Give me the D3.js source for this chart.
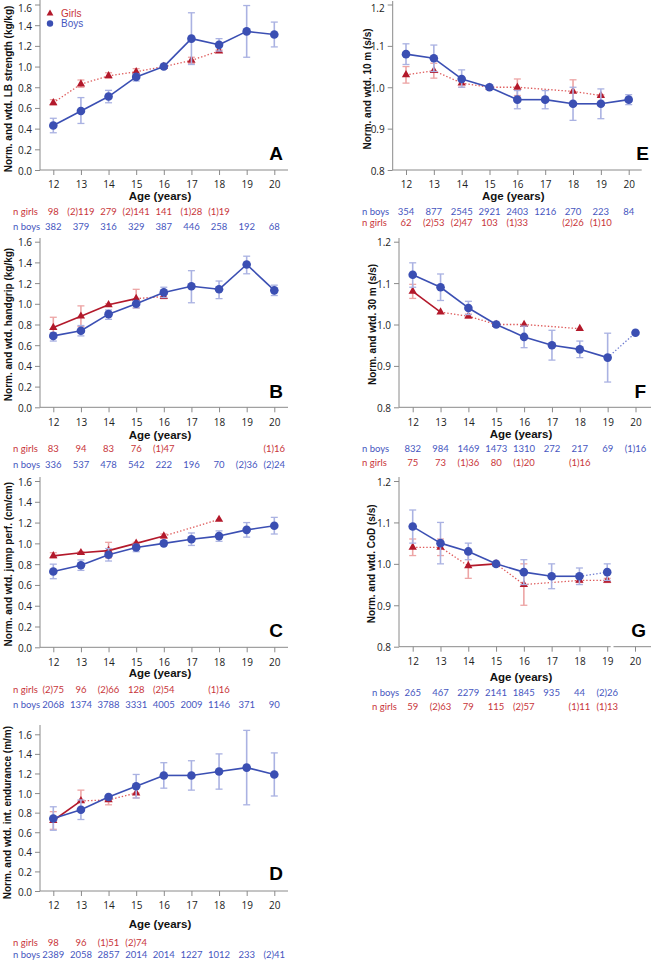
<!DOCTYPE html>
<html><head><meta charset="utf-8">
<script src="https://cdn.jsdelivr.net/npm/d3@7"></script>
<style>body{margin:0;background:#fff}svg{display:block}</style>
</head><body>
<svg id="c" width="651" height="960"></svg>
<script>
const ages = [12,13,14,15,16,17,18,19,20];
// A: LB strength
const aGirls   = [0.65,0.83,0.91,0.95,1.00,1.06,1.15,null,null];
const aGirlsLo = [0.63,0.80,0.89,0.92,1.00,1.03,1.14,null,null];
const aGirlsHi = [0.68,0.87,0.94,0.98,1.00,1.09,1.16,null,null];
const aGirlsSolid = [0,0,0,0,0,0,0,0];
const aBoys   = [0.43,0.57,0.71,0.90,1.00,1.27,1.21,1.34,1.31];
const aBoysLo = [0.36,0.45,0.65,0.86,1.00,1.02,1.15,1.09,1.19];
const aBoysHi = [0.50,0.70,0.77,0.93,1.00,1.52,1.27,1.59,1.43];
const aBoysSolid = [1,1,1,1,1,1,1,1];
const aNGirls = ["98","(2)119","279","(2)141","141","(1)28","(1)19","",""];
const aNBoys  = ["382","379","316","329","387","446","258","192","68"];
// B: handgrip
const bGirls   = [0.77,0.88,0.99,1.05,1.07,null,null,null,null];
const bGirlsLo = [0.68,0.78,0.98,0.96,1.05,null,null,null,null];
const bGirlsHi = [0.87,0.98,1.00,1.14,1.09,null,null,null,null];
const bGirlsSolid = [1,1,1,0,0,0,0,0];
const bBoys   = [0.69,0.74,0.90,1.00,1.11,1.17,1.14,1.38,1.13];
const bBoysLo = [0.64,0.69,0.85,0.96,1.06,1.01,1.05,1.29,1.08];
const bBoysHi = [0.72,0.79,0.94,1.03,1.16,1.32,1.22,1.46,1.18];
const bBoysSolid = [1,1,1,1,1,1,1,1];
const bNGirls = ["83","94","83","76","(1)47","","","","(1)16"];
const bNBoys  = ["336","537","478","542","222","196","70","(2)36","(2)24"];
// C: jump performance
const cGirls   = [0.88,0.91,0.93,1.00,1.07,null,1.23,null,null];
const cGirlsLo = [0.86,0.90,0.86,0.98,1.05,null,1.23,null,null];
const cGirlsHi = [0.91,0.92,1.01,1.01,1.09,null,1.23,null,null];
const cGirlsSolid = [1,1,1,1,0,0,0,0];
const cBoys   = [0.73,0.79,0.89,0.96,1.00,1.04,1.07,1.13,1.17];
const cBoysLo = [0.66,0.74,0.83,0.92,1.00,0.98,1.02,1.06,1.09];
const cBoysHi = [0.80,0.84,0.95,0.99,1.00,1.10,1.12,1.20,1.25];
const cBoysSolid = [1,1,1,1,1,1,1,1];
const cNGirls = ["(2)75","96","(2)66","128","(2)54","","(1)16","",""];
const cNBoys  = ["2068","1374","3788","3331","4005","2009","1146","371","90"];
// D: intermittent endurance
const dGirls   = [0.72,0.92,0.93,1.00,null,null,null,null,null];
const dGirlsLo = [0.63,0.92,0.88,0.95,null,null,null,null,null];
const dGirlsHi = [0.81,1.03,0.96,1.00,null,null,null,null,null];
const dGirlsSolid = [1,0,0,0,0,0,0,0];
const dBoys   = [0.74,0.83,0.96,1.07,1.18,1.18,1.22,1.26,1.19];
const dBoysLo = [0.62,0.73,0.95,0.95,1.05,1.03,1.04,0.88,0.97];
const dBoysHi = [0.86,0.93,0.97,1.19,1.31,1.33,1.40,1.64,1.41];
const dBoysSolid = [1,1,1,1,1,1,1,1];
const dNGirls = ["98","96","(1)51","(2)74","","","","",""];
const dNBoys  = ["2389","2058","2857","2014","2014","1227","1012","233","(2)41"];
// E: 10 m sprint
const eGirls   = [1.03,1.04,1.01,1.00,1.00,null,0.99,0.98,null];
const eGirlsLo = [1.01,1.022,1.00,1.00,0.98,null,0.962,0.978,null];
const eGirlsHi = [1.05,1.058,1.02,1.00,1.02,null,1.018,0.982,null];
const eGirlsSolid = [0,0,0,0,0,0,0,0];
const eBoys   = [1.08,1.07,1.02,1.00,0.97,0.97,0.96,0.96,0.97];
const eBoysLo = [1.055,1.038,1.00,1.00,0.948,0.948,0.92,0.924,0.958];
const eBoysHi = [1.105,1.102,1.042,1.00,0.992,0.992,1.00,0.996,0.982];
const eBoysSolid = [1,1,1,1,1,1,1,1];
const eNBoys  = ["354","877","2545","2921","2403","1216","270","223","84"];
const eNGirls = ["62","(2)53","(2)47","103","(1)33","","(2)26","(1)10",""];
// F: 30 m sprint
const fGirls   = [1.08,1.03,1.02,1.00,1.00,null,0.99,null,null];
const fGirlsLo = [1.063,1.03,1.015,1.00,1.00,null,0.99,null,null];
const fGirlsHi = [1.097,1.03,1.025,1.00,1.00,null,0.99,null,null];
const fGirlsSolid = [1,0,0,0,0,0,0,0];
const fBoys   = [1.12,1.09,1.04,1.00,0.97,0.95,0.94,0.92,0.98];
const fBoysLo = [1.09,1.058,1.024,1.00,0.944,0.914,0.92,0.861,0.98];
const fBoysHi = [1.149,1.122,1.056,1.00,0.996,0.986,0.96,0.979,0.98];
const fBoysSolid = [1,1,1,1,1,1,1,0];
const fNBoys  = ["832","984","1469","1473","1310","272","217","69","(1)16"];
const fNGirls = ["75","73","(1)36","80","(1)20","","(1)16","",""];
// G: change of direction
const gGirls   = [1.04,1.04,0.995,1.00,0.95,null,0.96,0.96,null];
const gGirlsLo = [1.02,1.02,0.965,1.00,0.90,null,0.955,0.955,null];
const gGirlsHi = [1.06,1.06,1.025,1.00,1.00,null,0.965,0.965,null];
const gGirlsSolid = [0,0,1,0,0,0,0,0];
const gBoys   = [1.09,1.05,1.03,1.00,0.98,0.97,0.97,0.98,null];
const gBoysLo = [1.05,1.00,1.01,1.00,0.95,0.94,0.95,0.96,null];
const gBoysHi = [1.13,1.10,1.05,1.00,1.01,1.00,0.99,1.00,null];
const gBoysSolid = [1,1,1,1,1,1,0,0];
const gNBoys  = ["265","467","2279","2141","1845","935","44","(2)26",""];
const gNGirls = ["59","(2)63","79","115","(2)57","","(1)11","(1)13",""];

const yTicksAbs = [0,0.2,0.4,0.6,0.8,1.0,1.2,1.4,1.6];
const yTicksRel = [0.8,0.9,1.0,1.1,1.2];

const C = {
  girl:"#b3192b", girlDot:"#de5a5a", girlErr:"#eda5a5", girlTxt:"#c8353a",
  boy:"#3b4fb3", boyDot:"#6d7bd0", boyErr:"#aab2e2", boyTxt:"#4656c0",
  axis:"#8a8a8a", tick:"#222"
};

const panels = [
 {id:"A", label:"Norm. and wtd. LB strength (kg/kg)", g:[aGirls,aGirlsLo,aGirlsHi,aGirlsSolid], b:[aBoys,aBoysLo,aBoysHi,aBoysSolid],
  rows:[["n girls",aNGirls,"g"],["n boys",aNBoys,"b"]], yt:yTicksAbs, dom:[0,1.6],
  L:{ax:40,x0:53.3,x1:274.3,xe:288,yTop:4.5,yBot:170,yAxTop:0,tl:14,age:26,r1:41,r2:56,nx:13,ylx:8,lx:283,ly:160}, legend:true},
 {id:"B", label:"Norm. and wtd. handgrip (kg/kg)", g:[bGirls,bGirlsLo,bGirlsHi,bGirlsSolid], b:[bBoys,bBoysLo,bBoysHi,bBoysSolid],
  rows:[["n girls",bNGirls,"g"],["n boys",bNBoys,"b"]], yt:yTicksAbs, dom:[0,1.6],
  L:{ax:40,x0:53.3,x1:274.3,xe:288,yTop:241.7,yBot:407.3,yAxTop:238,tl:14.4,age:28,r1:41,r2:57,nx:13,ylx:8,lx:283,ly:397.5}},
 {id:"C", label:"Norm. and wtd. jump perf. (cm/cm)", g:[cGirls,cGirlsLo,cGirlsHi,cGirlsSolid], b:[cBoys,cBoysLo,cBoysHi,cBoysSolid],
  rows:[["n girls",cNGirls,"g"],["n boys",cNBoys,"b"]], yt:yTicksAbs, dom:[0,1.6],
  L:{ax:40,x0:53.3,x1:274.3,xe:288,yTop:481,yBot:647.3,yAxTop:477,tl:14.4,age:26,r1:42,r2:57,nx:13,ylx:8,lx:283,ly:636.5}},
 {id:"D", label:"Norm. and wtd. int. endurance (m/m)", g:[dGirls,dGirlsLo,dGirlsHi,dGirlsSolid], b:[dBoys,dBoysLo,dBoysHi,dBoysSolid],
  rows:[["n girls",dNGirls,"g"],["n boys",dNBoys,"b"]], yt:yTicksAbs, dom:[0,1.6],
  L:{ax:40,x0:53.3,x1:274.3,xe:288,yTop:734.3,yBot:891,yAxTop:725,tl:14,age:33,r1:51,r2:63,nx:13,ylx:7,lx:283,ly:880}},
 {id:"E", label:"Norm. and wtd. 10 m (s/s)", g:[eGirls,eGirlsLo,eGirlsHi,eGirlsSolid], b:[eBoys,eBoysLo,eBoysHi,eBoysSolid],
  rows:[["n boys",eNBoys,"b"],["n girls",eNGirls,"g"]], yt:yTicksRel, dom:[0.8,1.2],
  L:{ax:392.7,x0:406,x1:628.7,xe:641.7,yTop:4.5,yBot:170,yAxTop:1,tl:13.5,age:26,r1:41,r2:52.5,nx:362,ylx:367,lx:649,ly:159.5}},
 {id:"F", label:"Norm. and wtd. 30 m (s/s)", g:[fGirls,fGirlsLo,fGirlsHi,fGirlsSolid], b:[fBoys,fBoysLo,fBoysHi,fBoysSolid],
  rows:[["n boys",fNBoys,"b"],["n girls",fNGirls,"g"]], yt:yTicksRel, dom:[0.8,1.2],
  L:{ax:399,x0:412.7,x1:635.5,xe:651,yTop:241.7,yBot:407.3,yAxTop:238,tl:14.4,age:27,r1:41,r2:55.5,nx:362,ylx:372,lx:646,ly:398}},
 {id:"G", label:"Norm. and wtd. CoD  (s/s)", g:[gGirls,gGirlsLo,gGirlsHi,gGirlsSolid], b:[gBoys,gBoysLo,gBoysHi,gBoysSolid],
  rows:[["n boys",gNBoys,"b"],["n girls",gNGirls,"g"]], yt:yTicksRel, dom:[0.8,1.2],
  L:{ax:399,x0:412.7,x1:635,xe:651,yTop:481,yBot:646.7,yAxTop:477,tl:14.3,age:30.5,r1:46,r2:59.5,nx:372,ylx:371,lx:646,ly:637,brk:[610.7,613.5]}}
];

const svg = d3.select("#c");
const nFont = "Lato,'Open Sans',sans-serif";

panels.forEach(p => {
  const L = p.L;
  const x = d3.scaleLinear().domain([12,20]).range([L.x0,L.x1]);
  const y = d3.scaleLinear().domain(p.dom).range([L.yBot,L.yTop]);
  const g = svg.append("g");

  // y axis
  g.append("line").attr("x1",L.ax).attr("x2",L.ax).attr("y1",L.yAxTop).attr("y2",L.yBot)
    .attr("stroke",C.axis).attr("stroke-width",1);
  const ya = d3.axisLeft(y).tickValues(p.yt).tickFormat(d3.format(".1f")).tickSize(5).tickPadding(3);
  const yg = g.append("g").attr("transform",`translate(${L.ax},0)`).call(ya);
  yg.select(".domain").remove();
  yg.selectAll(".tick line").attr("stroke",C.axis);
  yg.selectAll(".tick text").attr("fill",C.tick).attr("dy",null).attr("dominant-baseline","central")
    .style("font-family","'Open Sans',sans-serif").style("font-size","10px");
  // keep the topmost label inside the picture
  yg.selectAll(".tick").filter(d => y(d) < 7).select("text").attr("y", 7 - y(p.yt[p.yt.length-1]));

  // x axis
  if (L.brk) {
    g.append("line").attr("x1",L.ax).attr("x2",L.brk[0]).attr("y1",L.yBot).attr("y2",L.yBot).attr("stroke",C.axis);
    g.append("line").attr("x1",L.brk[1]).attr("x2",L.xe).attr("y1",L.yBot).attr("y2",L.yBot).attr("stroke",C.axis);
  } else {
    g.append("line").attr("x1",L.ax).attr("x2",L.xe).attr("y1",L.yBot).attr("y2",L.yBot).attr("stroke",C.axis);
  }
  const xa = d3.axisBottom(x).tickValues(ages).tickFormat(d3.format("d")).tickSize(5).tickPadding(3);
  const xg = g.append("g").attr("transform",`translate(0,${L.yBot})`).call(xa);
  xg.select(".domain").remove();
  xg.selectAll(".tick line").attr("stroke",C.axis);
  xg.selectAll(".tick text").attr("fill",C.tick).attr("y",null).attr("dy",null)
    .attr("transform",`translate(0,${L.tl})`).attr("dominant-baseline","central")
    .style("font-family","'Open Sans',sans-serif").style("font-size","10px");

  // axis titles
  g.append("text").attr("x",(L.ax+L.xe)/2 - 4).attr("y",L.yBot+L.age).attr("text-anchor","middle")
    .attr("dominant-baseline","central").style("font-family","'Liberation Sans',Arial,sans-serif")
    .style("font-weight","bold").style("font-size","11.5px").attr("fill","#111").text("Age (years)");
  g.append("text").attr("transform",`translate(${L.ylx},${Math.max((L.yTop+L.yBot)/2, 89)}) rotate(-90)`)
    .attr("text-anchor","middle").attr("dominant-baseline","central")
    .style("font-family","'Liberation Sans',Arial,sans-serif").style("font-weight","bold").style("font-size","10px")
    .attr("fill","#111").text(p.label);

  // panel letter
  g.append("text").attr("x",L.lx).attr("y",L.ly).attr("text-anchor","end")
    .style("font-family","'Liberation Sans',Arial,sans-serif").style("font-weight","bold").style("font-size","19px")
    .attr("fill","#000").text(p.id);

  // series
  function drawSeries(s, col, dotCol, errCol, isGirl) {
    const [m, lo, hi, solid] = s;
    const pts = ages.map((a,i)=>({a,i,v:m[i],lo:lo[i],hi:hi[i]})).filter(d=>d.v!=null);
    pts.forEach(d => {
      if (d.hi - d.lo < 0.004) return;
      const ex = x(d.a);
      g.append("line").attr("x1",ex).attr("x2",ex).attr("y1",y(d.lo)).attr("y2",y(d.hi)).attr("stroke",errCol).attr("stroke-width",1.6);
      [d.lo,d.hi].forEach(v => g.append("line").attr("x1",ex-3.5).attr("x2",ex+3.5).attr("y1",y(v)).attr("y2",y(v)).attr("stroke",errCol).attr("stroke-width",1.3));
    });
    for (let k=0;k<pts.length-1;k++){
      const a=pts[k], b=pts[k+1];
      const isSolid = solid[a.i]===1;
      g.append("line").attr("x1",x(a.a)).attr("y1",y(a.v)).attr("x2",x(b.a)).attr("y2",y(b.v))
        .attr("stroke", isSolid?col:dotCol).attr("stroke-width", isSolid?1.6:1.3)
        .attr("stroke-dasharray", isSolid?null:"1.4,2");
    }
    pts.forEach(d => {
      if (isGirl) {
        g.append("path").attr("d",d3.symbol(d3.symbolTriangle,30)()).attr("transform",`translate(${x(d.a)},${y(d.v)})`).attr("fill",col);
      } else {
        g.append("circle").attr("cx",x(d.a)).attr("cy",y(d.v)).attr("r",4.3).attr("fill",col);
      }
    });
  }
  drawSeries(p.g, C.girl, C.girlDot, C.girlErr, true);
  drawSeries(p.b, C.boy, C.boyDot, C.boyErr, false);

  // n rows
  p.rows.forEach((r,ri) => {
    const yy = L.yBot + (ri===0?L.r1:L.r2);
    const col = r[2]==="g"?C.girlTxt:C.boyTxt;
    g.append("text").attr("x",L.nx).attr("y",yy).attr("dominant-baseline","central")
      .style("font-family",nFont).style("font-size","9.5px").attr("fill",col).text(r[0]);
    r[1].forEach((t,i) => {
      if (!t) return;
      g.append("text").attr("x",x(ages[i])).attr("y",yy).attr("text-anchor","middle").attr("dominant-baseline","central")
        .style("font-family",nFont).style("font-size","9.5px").attr("fill",col).text(t);
    });
  });

  if (p.legend) {
    const lg = svg.append("g");
    lg.append("path").attr("d",d3.symbol(d3.symbolTriangle,20)()).attr("transform","translate(50,13.5)").attr("fill",C.girl);
    lg.append("text").attr("x",61).attr("y",13).attr("dominant-baseline","central")
      .style("font-family","'Liberation Sans',Arial,sans-serif").style("font-size","10px").attr("fill",C.girlTxt).text("Girls");
    lg.append("circle").attr("cx",50).attr("cy",23.5).attr("r",3.2).attr("fill",C.boy);
    lg.append("text").attr("x",61).attr("y",23.5).attr("dominant-baseline","central")
      .style("font-family","'Liberation Sans',Arial,sans-serif").style("font-size","10px").attr("fill",C.boyTxt).text("Boys");
  }
});
</script>
</body></html>
